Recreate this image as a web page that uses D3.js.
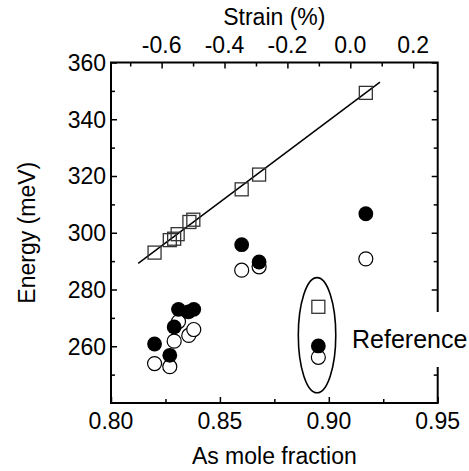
<!DOCTYPE html>
<html>
<head>
<meta charset="utf-8">
<script src="https://cdn.jsdelivr.net/npm/d3@7"></script>
<style>
  body { margin: 0; background: #fff; }
  text { font-family: "Liberation Sans", Arial, sans-serif; fill: #000; }
</style>
</head>
<body>
<svg id="viz"></svg>
<script>
// values
var xTicks = [0.80, 0.85, 0.90, 0.95]
var yTicks = [260, 280, 300, 320, 340, 360]
var strainTicks = [-0.6, -0.4, -0.2, 0.0, 0.2]

// open squares
var sqX = [0.820, 0.827, 0.829, 0.8306, 0.836, 0.8378, 0.860, 0.868, 0.917]
var sqE = [293.0, 297.4, 297.9, 299.5, 303.8, 304.6, 315.3, 320.5, 349.3]
// filled circles
var fillX = [0.820, 0.827, 0.829, 0.831, 0.8355, 0.838, 0.860, 0.868, 0.917]
var fillE = [260.8, 256.8, 266.8, 273.0, 272.1, 273.0, 295.8, 289.7, 306.7]
// open circles
var openX = [0.820, 0.827, 0.829, 0.831, 0.8357, 0.838, 0.860, 0.868, 0.917]
var openE = [253.9, 252.8, 261.8, 268.7, 263.8, 265.9, 286.8, 288.0, 290.8]
// reference sample
var refX = 0.8952
var refSq = 273.9, refFill = 260.1, refOpen = 256.1
// linear fit through the squares
var fitX = [0.8125, 0.9235]
var fitE = [289.2, 353.1]

var width = 469
var height = 471
var pLeft = 111, pRight = 437.7, pTop = 62.5, pBottom = 403

var svg = d3.select("#viz")
	.attr("width", width)
	.attr("height", height)

var x = d3.scaleLinear().domain([0.80, 0.95]).range([pLeft, pRight])
var y = d3.scaleLinear().domain([240, 360]).range([pBottom, pTop])
var xs = d3.scaleLinear().domain([-0.761, 0.278]).range([pLeft, pRight])

function minorTicks(lo, hi, step){
	var out = []
	for(var v = lo; v <= hi + 1e-9; v += step) out.push(+v.toFixed(4))
	return out
}

// axes, ticks inward
var bottomAx = d3.axisTop(x).tickValues(xTicks).tickSize(6).tickFormat("")
var bottomMinor = d3.axisTop(x).tickValues(minorTicks(0.825, 0.925, 0.05)).tickSize(4).tickFormat("")
var leftAx = d3.axisRight(y).tickValues(yTicks).tickSize(6).tickFormat("")
var leftMinor = d3.axisRight(y).tickValues(minorTicks(250, 350, 20)).tickSize(4).tickFormat("")
var rightAx = d3.axisLeft(y).tickValues(yTicks).tickSize(6).tickFormat("")
var rightMinor = d3.axisLeft(y).tickValues(minorTicks(250, 350, 20)).tickSize(4).tickFormat("")
var topAx = d3.axisBottom(xs).tickValues(strainTicks).tickSize(6).tickFormat("")
var topMinor = d3.axisBottom(xs).tickValues(minorTicks(-0.7, 0.1, 0.2)).tickSize(4).tickFormat("")

function put(ax, tr){
	var g = svg.append("g").attr("transform", tr).call(ax)
	g.select(".domain").remove()
	g.selectAll("line").attr("stroke", "#000").attr("stroke-width", 1.5)
}
put(bottomAx, "translate(0," + pBottom + ")")
put(bottomMinor, "translate(0," + pBottom + ")")
put(leftAx, "translate(" + pLeft + ",0)")
put(leftMinor, "translate(" + pLeft + ",0)")
put(rightAx, "translate(" + pRight + ",0)")
put(rightMinor, "translate(" + pRight + ",0)")
put(topAx, "translate(0," + pTop + ")")
put(topMinor, "translate(0," + pTop + ")")

svg.append("rect")
	.attr("x", pLeft).attr("y", pTop)
	.attr("width", pRight - pLeft).attr("height", pBottom - pTop)
	.attr("fill", "none").attr("stroke", "#000").attr("stroke-width", 2)

// tick labels
svg.selectAll(".xl").data(xTicks).enter().append("text")
	.attr("x", d => x(d)).attr("y", 429)
	.attr("text-anchor", "middle").attr("font-size", 23)
	.text(d => d.toFixed(2))
svg.selectAll(".yl").data(yTicks).enter().append("text")
	.attr("x", 106).attr("y", d => y(d) + 8.3)
	.attr("text-anchor", "end").attr("font-size", 23)
	.text(d => d)
svg.selectAll(".sl").data(strainTicks).enter().append("text")
	.attr("x", d => xs(d)).attr("y", 53)
	.attr("text-anchor", "middle").attr("font-size", 23)
	.text(d => d3.format(".1f")(d).replace("\u2212", "-"))

// axis titles
svg.append("text").attr("x", (pLeft + pRight) / 2).attr("y", 25)
	.attr("text-anchor", "middle").attr("font-size", 23).text("Strain (%)")
svg.append("text").attr("x", (pLeft + pRight) / 2).attr("y", 464)
	.attr("text-anchor", "middle").attr("font-size", 23).text("As mole fraction")
svg.append("text").attr("transform", "translate(35," + (pTop + pBottom) / 2 + ") rotate(-90)")
	.attr("text-anchor", "middle").attr("font-size", 23).text("Energy (meV)")

// fit line
svg.append("line")
	.attr("x1", x(fitX[0])).attr("y1", y(fitE[0]))
	.attr("x2", x(fitX[1])).attr("y2", y(fitE[1]))
	.attr("stroke", "#000").attr("stroke-width", 1.5)

var sq = 13
var allSqX = sqX.concat([refX]), allSqE = sqE.concat([refSq])
svg.selectAll(".sq").data(d3.range(allSqX.length)).enter().append("rect")
	.attr("x", i => x(allSqX[i]) - sq / 2).attr("y", i => y(allSqE[i]) - sq / 2)
	.attr("width", sq).attr("height", sq)
	.attr("fill", "none").attr("stroke", "#333").attr("stroke-width", 1.3)

var allOpenX = openX.concat([refX]), allOpenE = openE.concat([refOpen])
svg.selectAll(".oc").data(d3.range(allOpenX.length)).enter().append("circle")
	.attr("cx", i => x(allOpenX[i])).attr("cy", i => y(allOpenE[i]))
	.attr("r", 7).attr("fill", "#fff").attr("stroke", "#000").attr("stroke-width", 1.2)

var allFillX = fillX.concat([refX]), allFillE = fillE.concat([refFill])
svg.selectAll(".fc").data(d3.range(allFillX.length)).enter().append("circle")
	.attr("cx", i => x(allFillX[i])).attr("cy", i => y(allFillE[i]))
	.attr("r", 7.4).attr("fill", "#000")

// ellipse around the reference sample
svg.append("ellipse")
	.attr("cx", x(0.8946)).attr("cy", y(263.9))
	.attr("rx", x(0.8946) - x(0.8860)).attr("ry", y(263.9) - y(284.2))
	.attr("fill", "none").attr("stroke", "#000").attr("stroke-width", 1.6)

// label, covers the right axis
svg.append("rect").attr("x", 349).attr("y", 312).attr("width", 120).attr("height", 55).attr("fill", "#fff")
svg.append("text").attr("x", 352).attr("y", 348)
	.attr("font-size", 25).text("Reference")
</script>
</body>
</html>
